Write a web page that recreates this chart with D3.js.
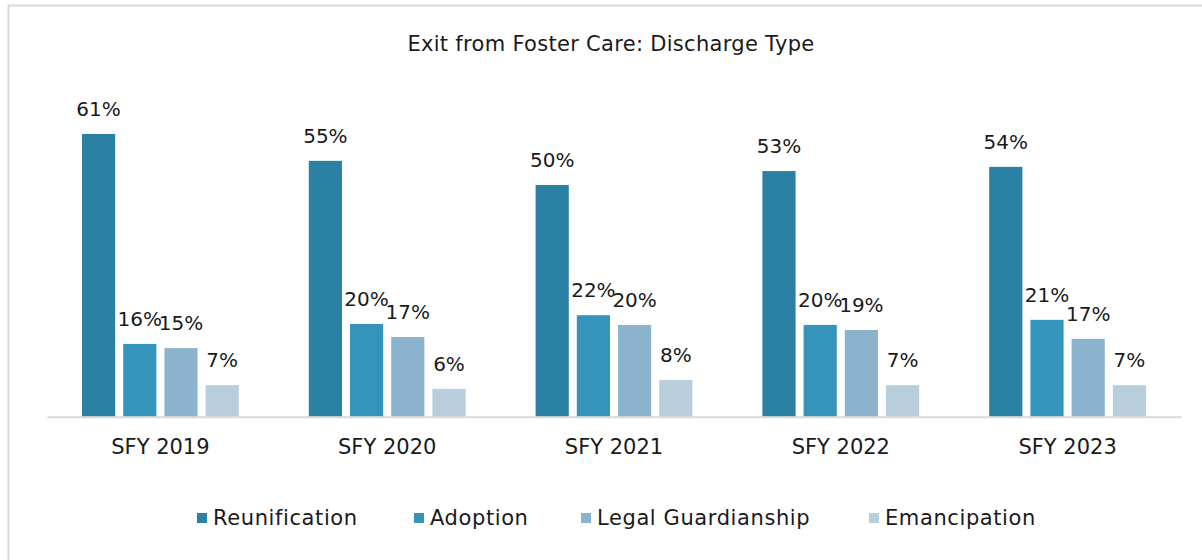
<!DOCTYPE html>
<html>
<head>
<meta charset="utf-8">
<script src="https://cdn.jsdelivr.net/npm/d3@7"></script>
<style>
  body { margin: 0; background: #fff; }
  text { font-family: "DejaVu Sans", sans-serif; fill: #1a1a1a; }
</style>
</head>
<body>
<svg id="chart" width="1202" height="560"></svg>
<script>
// values (percent of exits)
var years = ["SFY 2019", "SFY 2020", "SFY 2021", "SFY 2022", "SFY 2023"];
var types = ["Reunification", "Adoption", "Legal Guardianship", "Emancipation"];
var reunification = [61.0, 55.2, 50.0, 53.0, 53.9];
var adoption = [15.7, 20.0, 21.9, 19.8, 20.9];
var guardianship = [14.8, 17.2, 19.8, 18.7, 16.8];
var emancipation = [6.8, 6.0, 7.9, 6.8, 6.8];
var colors = ["#2b81a3", "#3494bb", "#8cb3cd", "#b9cedd"];

var series = [reunification, adoption, guardianship, emancipation];

var svg = d3.select("#chart");

// outer frame (runs off the right/bottom edge like the screenshot)
svg.append("rect")
    .attr("x", 8.5).attr("y", 5.5)
    .attr("width", 1220).attr("height", 600)
    .attr("fill", "none")
    .attr("stroke", "#d9d9d9")
    .attr("stroke-width", 2);

svg.append("text")
    .attr("x", 611).attr("y", 51)
    .attr("text-anchor", "middle")
    .style("font-size", "21px")
    .style("letter-spacing", "0.3px")
    .text("Exit from Foster Care: Discharge Type");

var x0 = d3.scaleBand()
    .domain(years)
    .range([47, 1181])
    .paddingInner(0)
    .paddingOuter(0);

var x1 = d3.scaleBand()
    .domain(types)
    .range([35, x0.bandwidth() - 35])
    .paddingInner(0.195)
    .paddingOuter(0);

var y = d3.scaleLinear()
    .domain([0, 70])
    .range([416.7, 416.7 - 70 * 4.635]);

var rows = [];
years.forEach(function (yr, i) {
    types.forEach(function (t, j) {
        rows.push({ year: yr, type: t, value: series[j][i], color: colors[j] });
    });
});

var g = svg.append("g");

g.selectAll("rect.bar")
    .data(rows)
    .enter()
    .append("rect")
    .attr("class", "bar")
    .attr("x", function (d) { return x0(d.year) + x1(d.type); })
    .attr("width", x1.bandwidth())
    .attr("y", function (d) { return y(d.value); })
    .attr("height", function (d) { return y(0) - y(d.value); })
    .style("fill", function (d) { return d.color; });

g.selectAll("text.lbl")
    .data(rows)
    .enter()
    .append("text")
    .attr("class", "lbl")
    .attr("x", function (d) { return x0(d.year) + x1(d.type) + x1.bandwidth() / 2; })
    .attr("y", function (d) { return y(d.value) - 18; })
    .attr("text-anchor", "middle")
    .style("font-size", "20px")
    .text(function (d) { return Math.round(d.value) + "%"; });

var xAxis = svg.append("g")
    .attr("transform", "translate(0," + y(0) + ")")
    .call(d3.axisBottom(x0).tickSize(0).tickPadding(22));
xAxis.select(".domain").attr("stroke", "#d9d9d9").attr("stroke-width", 2);
xAxis.selectAll("text")
    .style("font-size", "21px")
    .style("font-family", "DejaVu Sans, sans-serif")
    .attr("fill", "#1a1a1a");

// legend
var legendX = [197, 414, 581, 869];
var legend = svg.selectAll("g.leg")
    .data(types)
    .enter()
    .append("g")
    .attr("class", "leg")
    .attr("transform", function (d, i) { return "translate(" + legendX[i] + ",518)"; });

legend.append("rect")
    .attr("x", 0).attr("y", -5)
    .attr("width", 10).attr("height", 10)
    .style("fill", function (d, i) { return colors[i]; });

legend.append("text")
    .attr("x", 16).attr("y", 7)
    .style("font-size", "21px")
    .style("letter-spacing", "0.6px")
    .text(function (d) { return d; });
</script>
</body>
</html>
